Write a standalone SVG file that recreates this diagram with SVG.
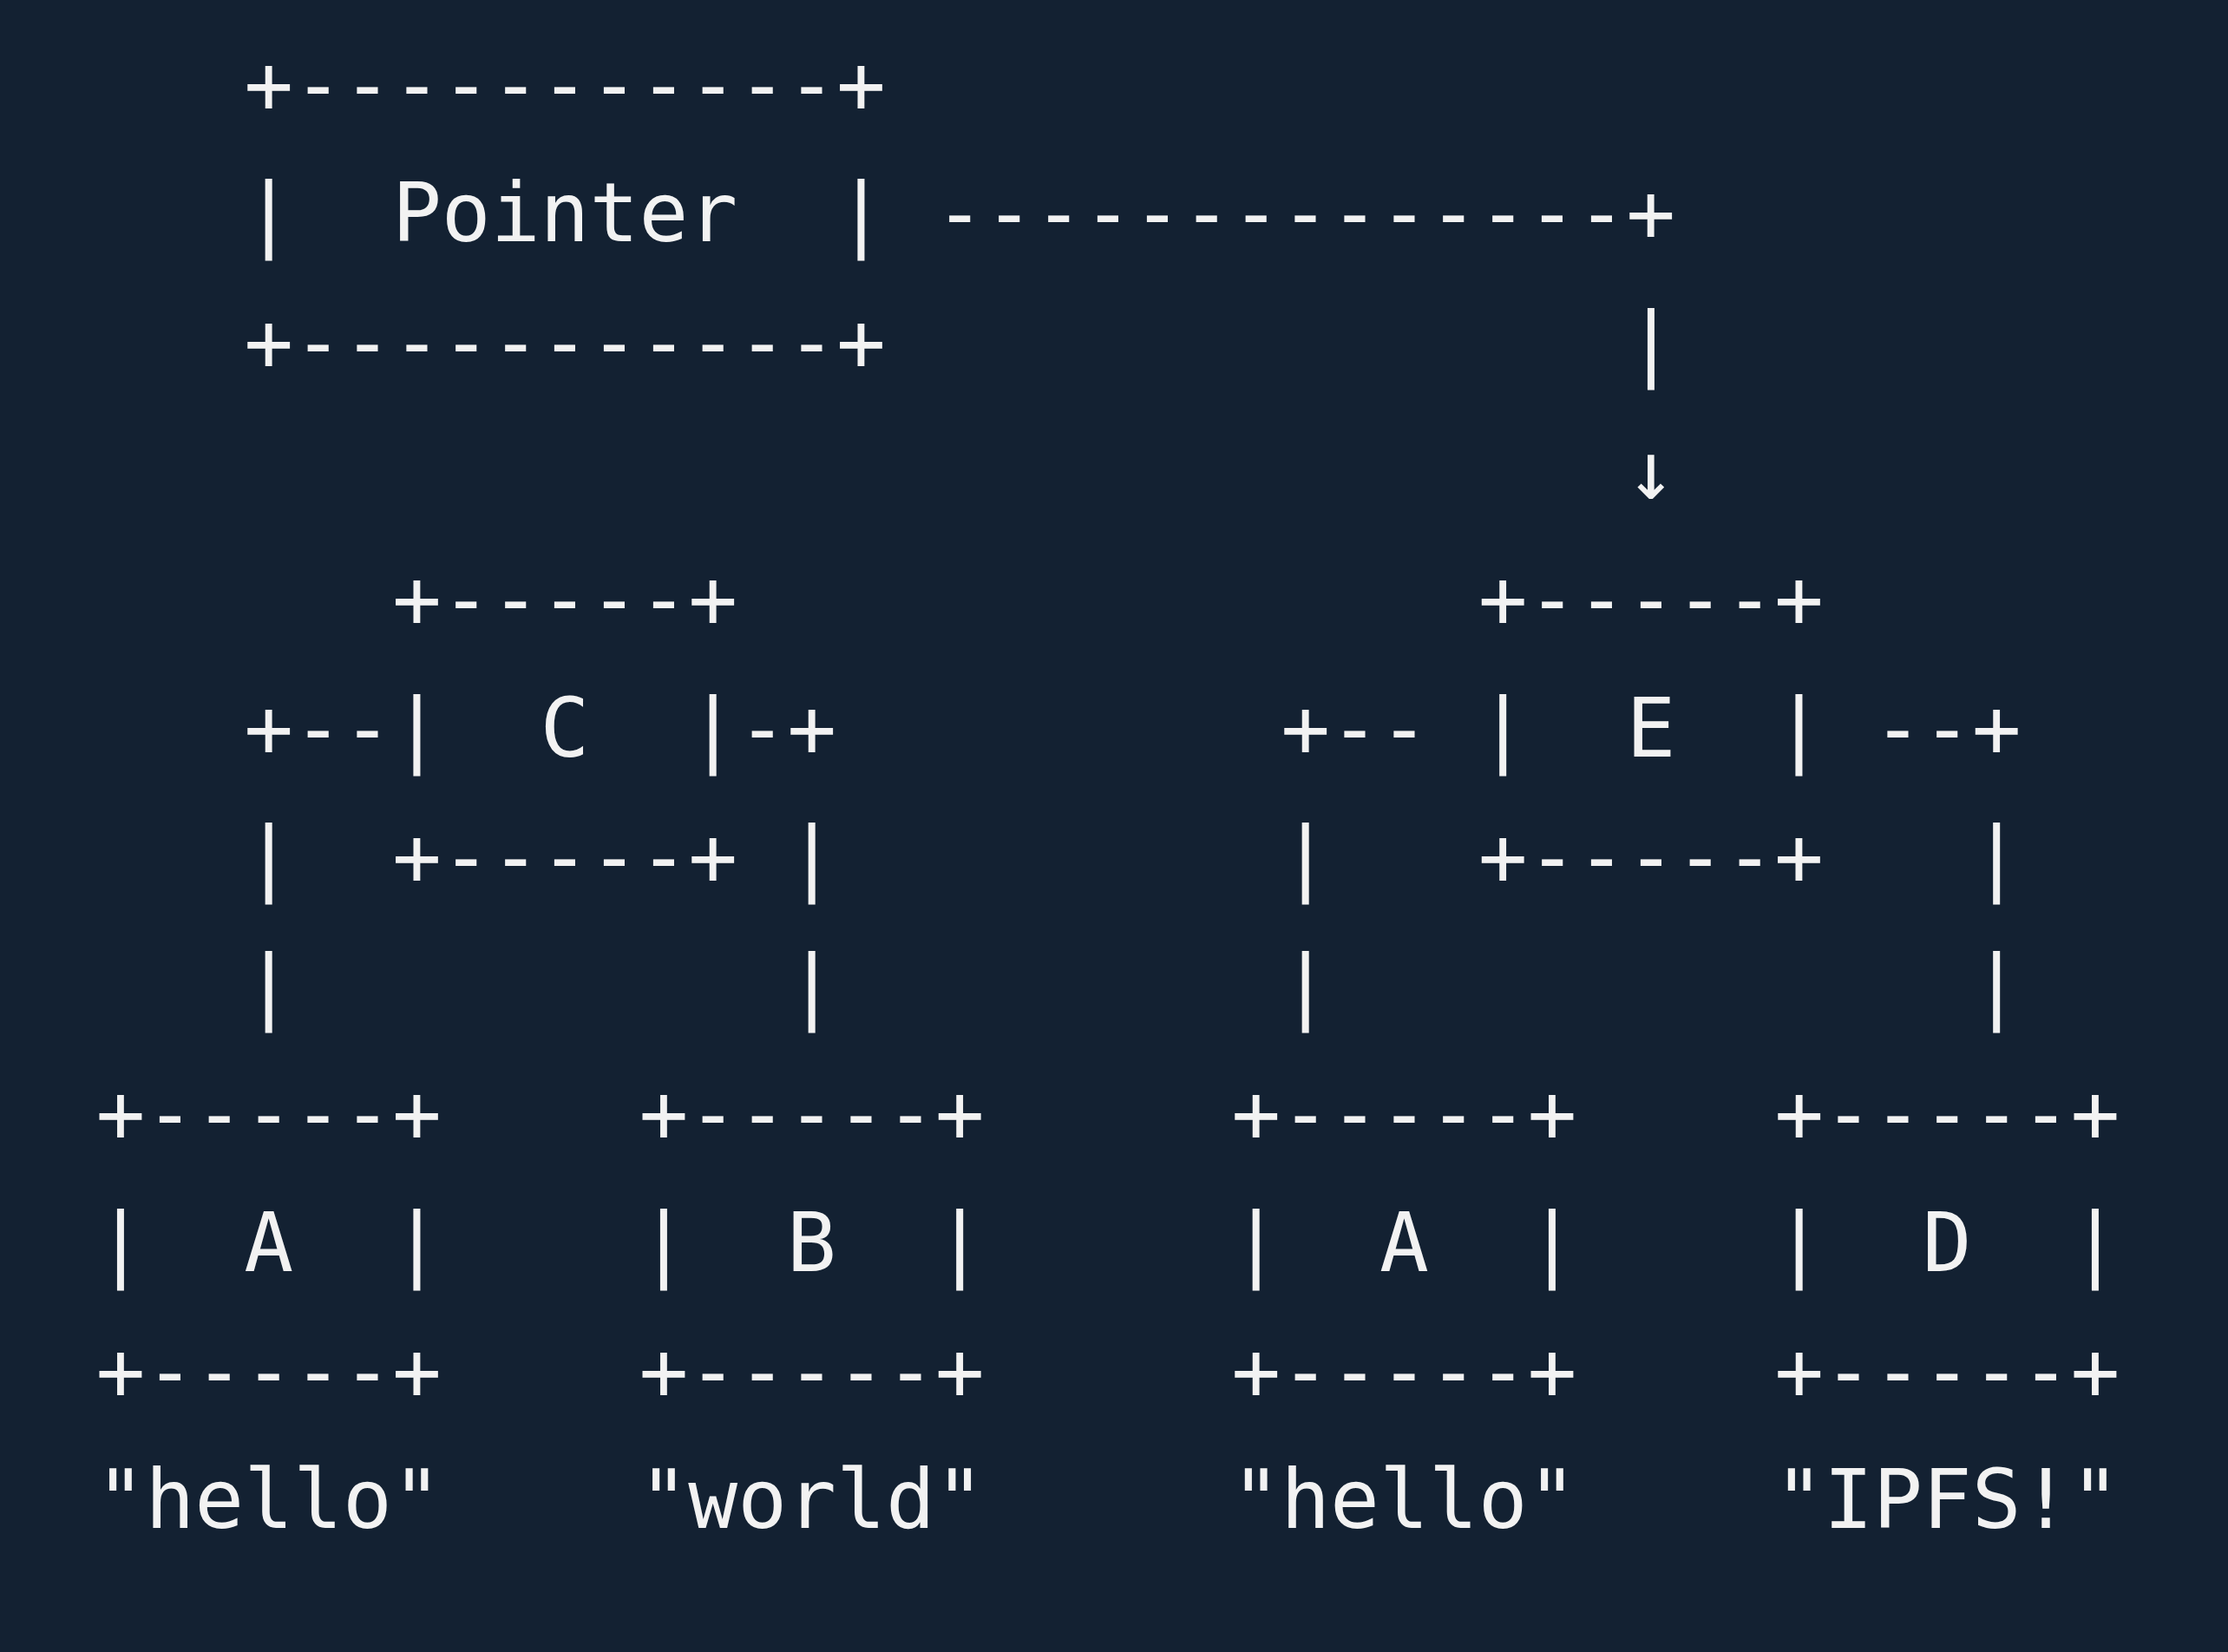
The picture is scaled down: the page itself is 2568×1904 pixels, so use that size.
<svg xmlns="http://www.w3.org/2000/svg" width="2568" height="1904" viewBox="0 0 2568 1904" xml:space="preserve">
<style>
text { font-family: "DejaVu Sans Mono", "Liberation Mono", monospace; font-size: 94.5px; fill: #f2f2f2; white-space: pre; }
</style>
<rect x="0" y="0" width="2568" height="1904" fill="#132132"/>
<g id="node-pointer">
<text x="281.25" y="130">+-----------+</text>
<text x="281.25" y="278.3">|  Pointer  |</text>
<text x="281.25" y="426.6">+-----------+</text>
</g>
<g id="node-c">
<text x="451.95" y="723.2">+-----+</text>
<text x="451.95" y="871.5">|  C  |</text>
<text x="451.95" y="1019.8">+-----+</text>
</g>
<g id="node-e">
<text x="1703.75" y="723.2">+-----+</text>
<text x="1703.75" y="871.5">|  E  |</text>
<text x="1703.75" y="1019.8">+-----+</text>
</g>
<g id="node-a1">
<text x="110.55" y="1316.4">+-----+</text>
<text x="110.55" y="1464.7">|  A  |</text>
<text x="110.55" y="1613">+-----+</text>
<text x="110.55" y="1761.3">"hello"</text>
</g>
<g id="node-b">
<text x="736.45" y="1316.4">+-----+</text>
<text x="736.45" y="1464.7">|  B  |</text>
<text x="736.45" y="1613">+-----+</text>
<text x="736.45" y="1761.3">"world"</text>
</g>
<g id="node-a2">
<text x="1419.25" y="1316.4">+-----+</text>
<text x="1419.25" y="1464.7">|  A  |</text>
<text x="1419.25" y="1613">+-----+</text>
<text x="1419.25" y="1761.3">"hello"</text>
</g>
<g id="node-d">
<text x="2045.15" y="1316.4">+-----+</text>
<text x="2045.15" y="1464.7">|  D  |</text>
<text x="2045.15" y="1613">+-----+</text>
<text x="2045.15" y="1761.3">"IPFS!"</text>
</g>
<g id="connectors">
<text x="1077.85" y="278.3">--------------+</text>
<text x="1874.45" y="426.6">|</text>
<text x="1874.45" y="574.9">↓</text>
<text x="281.25" y="871.5">+--</text>
<text x="850.25" y="871.5">-+</text>
<text x="1476.15" y="871.5">+--</text>
<text x="2158.95" y="871.5">--+</text>
<text x="281.25" y="1019.8">|</text>
<text x="907.15" y="1019.8">|</text>
<text x="1476.15" y="1019.8">|</text>
<text x="2272.75" y="1019.8">|</text>
<text x="281.25" y="1168.1">|</text>
<text x="907.15" y="1168.1">|</text>
<text x="1476.15" y="1168.1">|</text>
<text x="2272.75" y="1168.1">|</text>
</g>
</svg>
